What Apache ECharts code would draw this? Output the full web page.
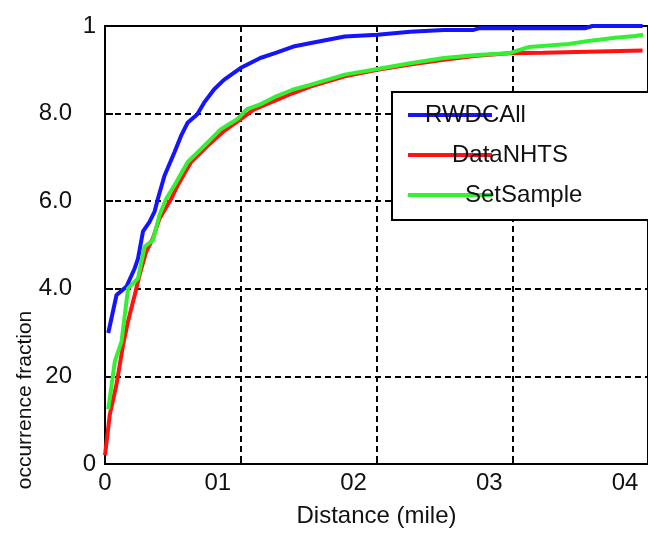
<!DOCTYPE html>
<html>
<head>
<meta charset="utf-8">
<script src="https://cdn.jsdelivr.net/npm/echarts@6/dist/echarts.min.js"></script>
<style>
html,body{margin:0;padding:0;background:#fff;}
#c{width:648px;height:533px;}
</style>
</head>
<body>
<div id="c"></div>
<script>
// ---- data ----
var seriesNames = ['RWDC All', 'Data NHTS', 'Set Sample'];
var legendLabels = ['RWDCAll', 'DataNHTS', 'SetSample'];

var rwdcX = [0.24,0.85,1.58,2.19,2.43,2.80,3.28,3.65,3.89,4.38,5.11,5.60,6.08,6.79,7.30,8.03,8.76,9.98,11.44,12.63,13.87,15.18,17.66,20.07,22.48,24.96,27.15,27.6,35.4,35.9,39.6];
var rwdcY = [0.299,0.386,0.405,0.447,0.469,0.531,0.553,0.576,0.605,0.658,0.711,0.749,0.779,0.798,0.825,0.855,0.877,0.904,0.927,0.939,0.953,0.961,0.976,0.980,0.987,0.991,0.991,0.995,0.995,1.0,1.0];

var nhtsX = [0,0.36,0.85,1.34,1.70,2.19,2.55,3.04,3.53,4.01,4.87,5.35,6.33,7.54,8.76,9.98,10.95,12.17,13.87,15.18,17.66,20.07,22.48,24.96,27.37,29.78,32.26,39.6];
var nhtsY = [0.020,0.114,0.182,0.273,0.326,0.386,0.432,0.485,0.515,0.560,0.605,0.636,0.689,0.726,0.760,0.787,0.809,0.825,0.847,0.862,0.885,0.900,0.912,0.923,0.932,0.938,0.939,0.944];

var setX = [0.24,0.73,1.22,1.70,2.43,2.92,3.53,4.01,4.50,5.11,6.08,7.30,8.52,9.73,10.46,11.44,12.65,13.87,15.18,17.66,20.07,22.48,24.96,27.37,29.78,31.24,34.16,35.62,37.59,39.05,39.64];
var setY = [0.125,0.235,0.280,0.401,0.424,0.496,0.511,0.568,0.605,0.636,0.689,0.726,0.764,0.787,0.810,0.821,0.840,0.855,0.866,0.889,0.902,0.915,0.927,0.934,0.938,0.952,0.959,0.966,0.973,0.977,0.980];

var xTickValues = [0, 10, 20, 30, 40];
var xTickLabels = ['0', '01', '02', '03', '04'];
var yTickValues = [0, 0.2, 0.4, 0.6, 0.8, 1];
var yTickLabels = ['0', '20', '4.0', '6.0', '8.0', '1'];

var xTitle = 'Distance (mile)';
var yTitle = 'occurrence fraction';

// ---- build ----
function pairs(xs, ys){ var out=[]; for (var i=0;i<xs.length;i++) out.push([xs[i], ys[i]]); return out; }
var colors = ['#1414ff', '#ff1212', '#33f033'];
var FONT = 'Liberation Sans, Arial, Helvetica, sans-serif';

var chart = echarts.init(document.getElementById('c'), null, {renderer:'canvas'});
var legendPad = [-72, -45, -32];

chart.setOption({
  animation: false,
  backgroundColor: '#fff',
  textStyle: {fontFamily: FONT},
  grid: {left: 105, top: 26, right: -5, bottom: 66, show: true, borderColor: '#000', borderWidth: 2, backgroundColor: '#fff'},
  xAxis: {
    type: 'value', min: 0, max: 40, interval: 10,
    name: xTitle, nameLocation: 'middle', nameGap: 40,
    nameTextStyle: {fontSize: 24, color: '#111', fontFamily: FONT},
    axisLine: {show: true, lineStyle: {color: '#000', width: 2}},
    axisTick: {show: true, inside: true, length: 8, lineStyle: {color: '#000', width: 2}},
    splitLine: {show: true, lineStyle: {color: '#000', width: 2, type: [6, 4]}},
    axisLabel: {
      margin: 7, fontSize: 24, color: '#111', fontFamily: FONT,
      formatter: function(v){
        var i = xTickValues.indexOf(v);
        if (i < 0) return '';
        return i === 0 ? '{z|' + xTickLabels[i] + '}' : '{s|' + xTickLabels[i] + '}';
      },
      rich: {
        z: {fontSize: 24, color: '#111', fontFamily: FONT},
        s: {fontSize: 24, color: '#111', fontFamily: FONT, padding: [0, 46, 0, 0]}
      }
    }
  },
  yAxis: {
    type: 'value', min: 0, max: 1, interval: 0.2,
    axisLine: {show: true, lineStyle: {color: '#000', width: 2}},
    axisTick: {show: true, inside: true, length: 8, lineStyle: {color: '#000', width: 2}},
    splitLine: {show: true, lineStyle: {color: '#000', width: 2, type: [6, 4]}},
    axisLabel: {
      margin: 9, fontSize: 24, color: '#111', fontFamily: FONT,
      formatter: function(v){
        var best = 0;
        for (var i=0;i<yTickValues.length;i++) if (Math.abs(yTickValues[i]-v) < 1e-6) best = i;
        if (best === 0 || best === yTickValues.length-1) return '{e|' + yTickLabels[best] + '}';
        return '{d|' + yTickLabels[best] + '}';
      },
      rich: {
        e: {fontSize: 24, color: '#111', fontFamily: FONT},
        d: {fontSize: 24, color: '#111', fontFamily: FONT, padding: [0, 24, 0, 0]}
      }
    }
  },
  legend: {
    orient: 'vertical', left: 392, top: 92,
    padding: [11, 120, 13, 16],
    borderColor: '#000', borderWidth: 2, backgroundColor: '#fff',
    itemWidth: 84, itemHeight: 4, itemGap: 16, icon: 'rect',
    selectedMode: false,
    formatter: function(name){ return legendLabels[seriesNames.indexOf(name)]; },
    textStyle: {fontSize: 24, lineHeight: 24, color: '#111', fontFamily: FONT},
    data: seriesNames.map(function(n, i){
      return {name: n, textStyle: {fontSize: 24, lineHeight: 24, color: '#111', fontFamily: FONT, padding: [0, 0, 0, legendPad[i]]}};
    })
  },
  graphic: [{
    type: 'text', x: 25, y: 400, rotation: Math.PI/2,
    style: {text: yTitle, font: '21px ' + FONT, fill: '#111', textAlign: 'center', textVerticalAlign: 'middle', align: 'center', verticalAlign: 'middle'}
  }],
  series: [
    {name: seriesNames[0], type: 'line', data: pairs(rwdcX, rwdcY), showSymbol: false, lineStyle: {width: 4, color: colors[0]}, itemStyle: {color: colors[0]}, z: 3},
    {name: seriesNames[1], type: 'line', data: pairs(nhtsX, nhtsY), showSymbol: false, lineStyle: {width: 4, color: colors[1]}, itemStyle: {color: colors[1]}, z: 3},
    {name: seriesNames[2], type: 'line', data: pairs(setX, setY), showSymbol: false, lineStyle: {width: 4, color: colors[2]}, itemStyle: {color: colors[2]}, z: 4}
  ]
});
</script>
</body>
</html>
